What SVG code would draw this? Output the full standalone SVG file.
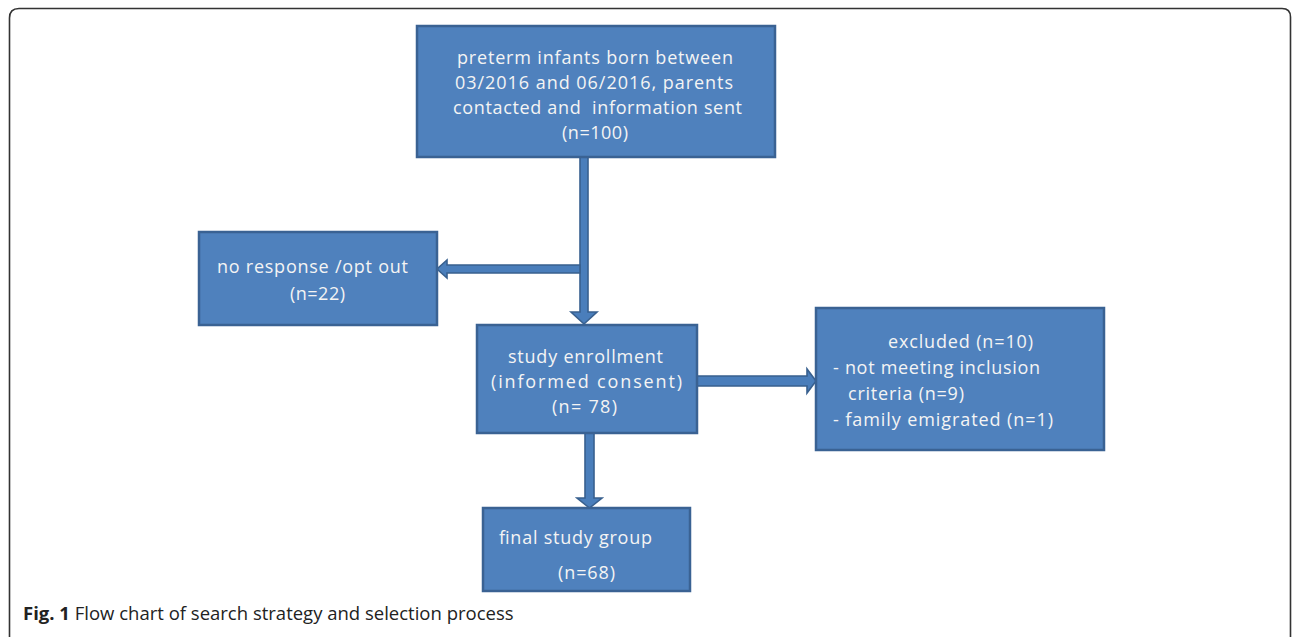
<svg xmlns="http://www.w3.org/2000/svg" width="1292" height="637" viewBox="0 0 1292 637">
<style>
.box{fill:#4f81bd;stroke:#3a6293;stroke-width:2.5}
.arrow{fill:#4a7ebb;stroke:#38608f;stroke-width:1.6;stroke-linejoin:miter}
.t{font-family:"Open Sans","Liberation Sans",sans-serif;font-size:18px;fill:#f4f4f4;white-space:pre}
.cap{font-family:"Open Sans","Liberation Sans",sans-serif;font-size:18.5px;fill:#222}
</style>
<rect width="1292" height="637" fill="#ffffff"/>
<path d="M9.5 645 L9.5 18 Q9.5 8.5 19 8.5 L1282 8.5 Q1290.5 8.5 1290.5 17 L1290.5 645" fill="none" stroke="#333" stroke-width="1.6"/>
<g id="connectors">
<polygon class="arrow" points="580,157 588,157 588,312 597,312 584,324 571,312 580,312"/>
<polygon class="arrow" points="580,265 580,273 447,273 447,278 437,269 447,260 447,265"/>
<polygon class="arrow" points="697,376 807,376 807,369 816,381 807,393 807,386 697,386"/>
<polygon class="arrow" points="585,433 594,433 594,498 602,498 589.5,508 577,498 585,498"/>
</g>
<g id="n1">
<rect class="box" x="417" y="26" width="358" height="131"/>
<text class="t" x="457" y="64" textLength="276" lengthAdjust="spacing">preterm infants born between</text>
<text class="t" x="455" y="89" textLength="278" lengthAdjust="spacing">03/2016 and 06/2016, parents</text>
<text class="t" x="453" y="114" textLength="289" lengthAdjust="spacing">contacted and  information sent</text>
<text class="t" x="562" y="139" textLength="66" lengthAdjust="spacing">(n=100)</text>
</g>
<g id="n2">
<rect class="box" x="199" y="232" width="238" height="93"/>
<text class="t" x="217" y="273" textLength="191" lengthAdjust="spacing">no response /opt out</text>
<text class="t" x="290" y="300" textLength="55" lengthAdjust="spacing">(n=22)</text>
</g>
<g id="n3">
<rect class="box" x="477" y="325" width="220" height="108"/>
<text class="t" x="508" y="363" textLength="155" lengthAdjust="spacing">study enrollment</text>
<text class="t" x="491" y="388" textLength="191" lengthAdjust="spacing">(informed consent)</text>
<text class="t" x="552" y="413" textLength="65" lengthAdjust="spacing">(n= 78)</text>
</g>
<g id="n4">
<rect class="box" x="816" y="308" width="288" height="142"/>
<text class="t" x="888" y="348" textLength="145" lengthAdjust="spacing">excluded (n=10)</text>
<text class="t" x="833" y="374" textLength="207" lengthAdjust="spacing">- not meeting inclusion</text>
<text class="t" x="848" y="400" textLength="116" lengthAdjust="spacing">criteria (n=9)</text>
<text class="t" x="833" y="426" textLength="220" lengthAdjust="spacing">- family emigrated (n=1)</text>
</g>
<g id="n5">
<rect class="box" x="483" y="508" width="207" height="83"/>
<text class="t" x="499" y="544" textLength="153" lengthAdjust="spacing">final study group</text>
<text class="t" x="558" y="579" textLength="57" lengthAdjust="spacing">(n=68)</text>
</g>
<text class="cap" x="23" y="620"><tspan font-weight="bold">Fig. 1</tspan> Flow chart of search strategy and selection process</text>
</svg>
